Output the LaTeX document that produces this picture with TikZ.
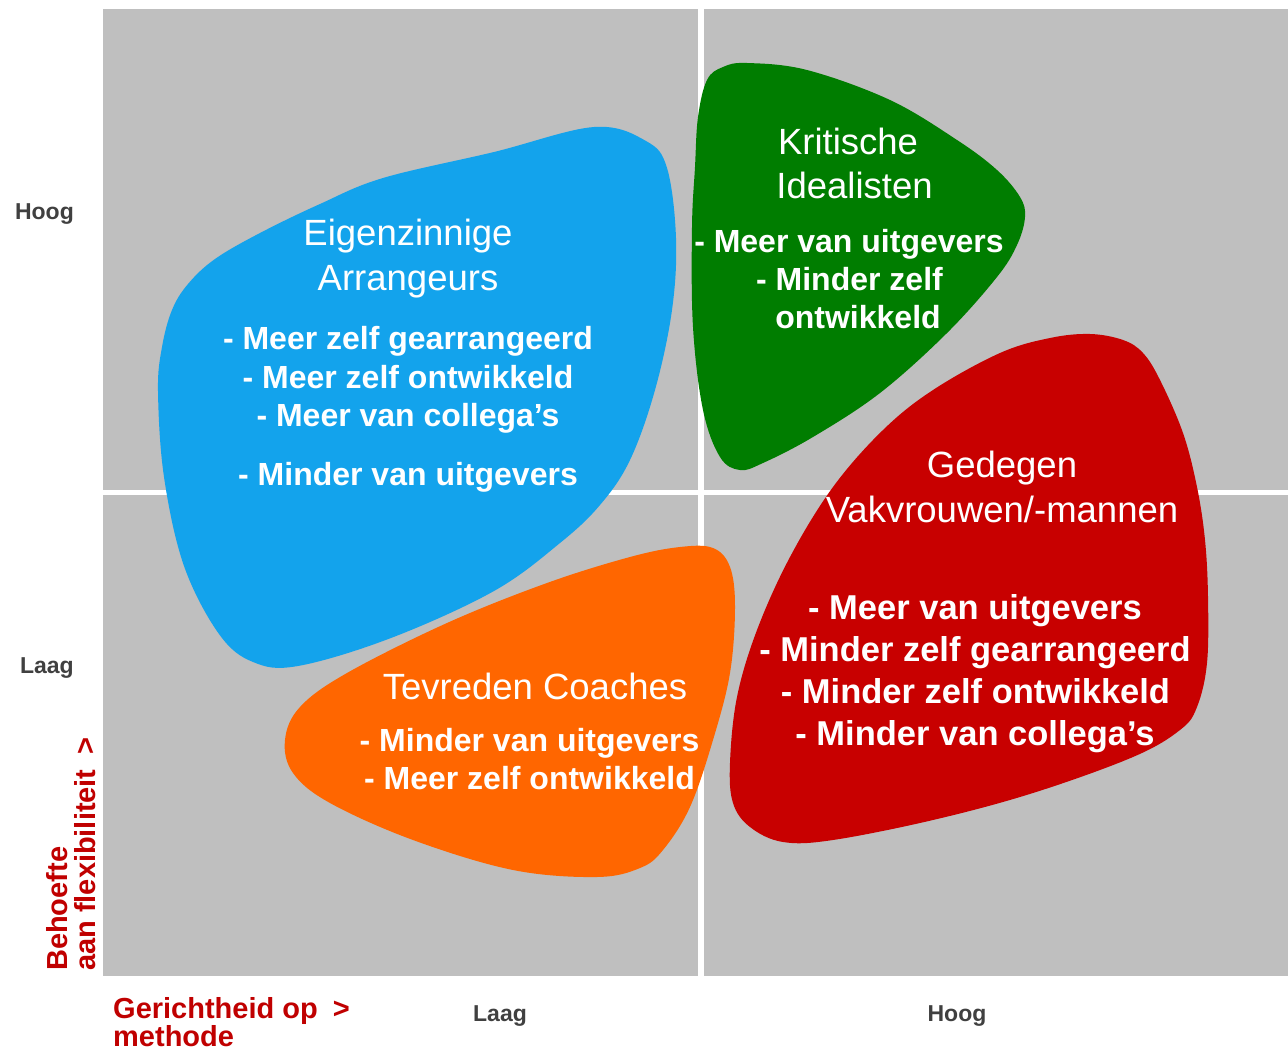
\documentclass[tikz,border=0pt]{standalone}
\usepackage{fontspec}
\setmainfont{Liberation Sans}
\definecolor{quadgrey}{HTML}{BFBFBF}
\definecolor{blobblue}{HTML}{13A3EC}
\definecolor{blobgreen}{HTML}{007D00}
\definecolor{blobred}{HTML}{C80000}
\definecolor{bloborange}{HTML}{FF6600}
\definecolor{axisgrey}{HTML}{404040}
\definecolor{axisred}{HTML}{C00000}
\begin{document}
\begin{tikzpicture}[x=1pt,y=-1pt,
  quad/.style={fill=quadgrey},
  title/.style={text=white,anchor=base,inner sep=0pt,font=\fontsize{36.5}{44}\selectfont},
  item/.style={text=white,anchor=base,inner sep=0pt,font=\fontsize{32}{38}\selectfont\bfseries},
  itembig/.style={text=white,anchor=base,inner sep=0pt,font=\fontsize{34.5}{42}\selectfont\bfseries},
  tick/.style={text=axisgrey,inner sep=0pt,font=\fontsize{23}{26}\selectfont\bfseries},
  axlab/.style={text=axisred,inner sep=0pt,anchor=base west,font=\fontsize{29}{28}\selectfont\bfseries}]
\useasboundingbox (0,0) rectangle (1288,1049);
\fill[white] (0,0) rectangle (1288,1049);
% quadrants
\fill[quad] (103,9) rectangle (698,490);
\fill[quad] (704,9) rectangle (1288,490);
\fill[quad] (103,495) rectangle (698,976);
\fill[quad] (704,495) rectangle (1288,976);
% blue blob
\fill[blobblue] plot[smooth cycle,tension=0.6] coordinates {
 (594,127) (646,141) (667,168) (676,238) (672,310) (655,390) (630,460)
 (600,505) (560,543) (494,591) (391,638) (298,666) (253,662) (219,634)
 (184,566) (164,477) (158,391) (162,347) (172,310) (188,284) (215,259)
 (260,233) (320,204) (383,178) (494,152)};
% green blob
\fill[blobgreen] plot[smooth cycle,tension=0.6] coordinates {
 (747,63) (807,70) (890,100) (957,140) (997,170) (1020,197) (1025,217)
 (1017,245) (997,277) (947,333) (880,393) (813,437) (763,463) (740,470)
 (720,457) (703,410) (693,327) (692,227) (695,167) (698,117) (707,80)
 (723,67)};
% red blob
\fill[blobred] plot[smooth cycle,tension=0.6] coordinates {
 (1090,334) (1123,340) (1143,353) (1160,380) (1183,433) (1197,487)
 (1205,540) (1208,597) (1207,663) (1197,707) (1180,730) (1133,757)
 (1033,793) (933,820) (833,840) (783,842) (750,827) (733,803) (730,763)
 (737,697) (757,630) (790,557) (833,487) (883,430) (933,390) (1000,353)
 (1050,338)};
% orange blob
\fill[bloborange] plot[smooth cycle,tension=0.6] coordinates {
 (680,547) (713,548) (730,567) (735,607) (730,673) (713,740) (690,807)
 (663,850) (640,868) (597,877) (513,870) (413,840) (330,803) (293,773)
 (285,740) (300,707) (347,673) (447,623) (547,583) (630,557)};
% blue texts
\node[title] (bt1) at (408,245.7) {Eigenzinnige};
\node[title] (bt2) at (408,290.7) {Arrangeurs};
\node[item] (bi1) at (408,349.6) {- Meer zelf gearrangeerd};
\node[item] (bi2) at (408,388.6) {- Meer zelf ontwikkeld};
\node[item] (bi3) at (408,426.4) {- Meer van collega’s};
\node[item] (bi4) at (408,485) {- Minder van uitgevers};
% green texts
\node[title] (gt1) at (848,154) {Kritische};
\node[title] (gt2) at (854.5,198) {Idealisten};
\node[item] (gi1) at (849,252.7) {- Meer van uitgevers};
\node[item] (gi2) at (849.5,290) {- Minder zelf};
\node[item] (gi3) at (858,328) {ontwikkeld};
% red texts
\node[title] (rt1) at (1002,477.7) {Gedegen};
\node[title] (rt2) at (1002,522.7) {Vakvrouwen/-mannen};
\node[itembig] (ri1) at (975,619.3) {- Meer van uitgevers};
\node[itembig] (ri2) at (975,661.7) {- Minder zelf gearrangeerd};
\node[itembig] (ri3) at (975.5,703.3) {- Minder zelf ontwikkeld};
\node[itembig] (ri4) at (975,745) {- Minder van collega’s};
% orange texts
\node[title] (ot1) at (535,699.3) {Tevreden Coaches};
\node[item] (oi1) at (529.5,751) {- Minder van uitgevers};
\node[item] (oi2) at (529.5,789) {- Meer zelf ontwikkeld};
% axis ticks
\node[tick,anchor=base east] (yh) at (74,219) {Hoog};
\node[tick,anchor=base east] (yl) at (74,673) {Laag};
\node[tick,anchor=base] (xl) at (500,1021) {Laag};
\node[tick,anchor=base] (xh) at (957,1021) {Hoog};
% axis labels
\node[axlab] (xa1) at (113,1018) {Gerichtheid op\hspace{15pt}>};
\node[axlab] (xa2) at (113,1046) {methode};
\node[axlab,rotate=90] (ya1) at (67,971) {Behoefte};
\node[axlab,rotate=90] (ya2) at (95,971) {aan flexibiliteit\hspace{15pt}>};
\end{tikzpicture}
\end{document}
